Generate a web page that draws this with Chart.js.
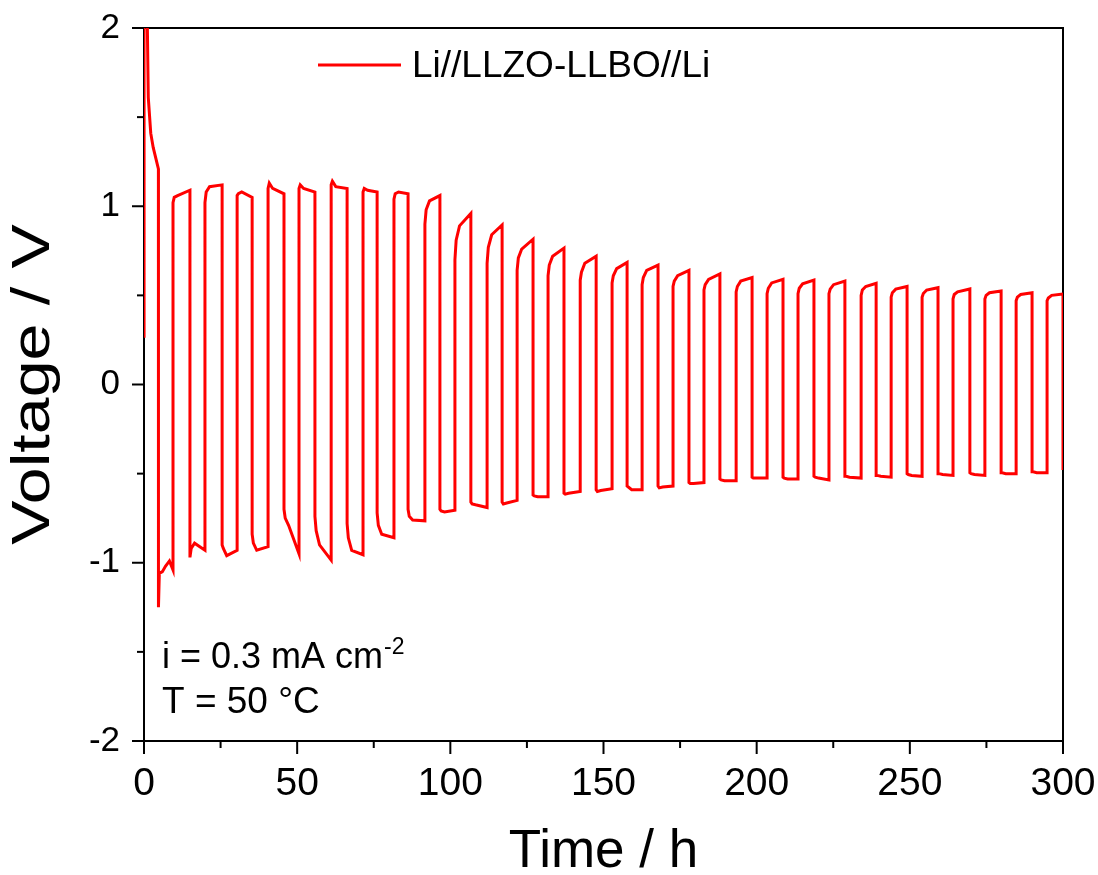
<!DOCTYPE html>
<html>
<head>
<meta charset="utf-8">
<script src="https://cdn.jsdelivr.net/npm/chart.js@4.4.1/dist/chart.umd.min.js"></script>
<style>
  body { margin: 0; background: #fff; }
</style>
</head>
<body>
<canvas id="chart" width="1098" height="875"></canvas>
<script>
// Symmetric cell cycling (time in h, voltage in V)
// start of the run: open circuit then the first polarisation
const startTime = [0, 0.02, 1.0, 1.1, 1.4, 2.2, 3.0, 4.7];
const startVolt = [0.27, 2.5, 2.1, 2.0, 1.61, 1.41, 1.33, 1.21];
const firstNegTime = [4.72, 5.0, 6.0, 7.0, 8.3, 9.47];
const firstNegVolt = [-1.25, -1.06, -1.05, -1.02, -0.99, -1.04];

// each cycle: positive half from posOn to posOff, then negative half until next posOn
const posOn = [9.47, 19.9, 30.4, 40.5, 50.6, 61.1, 71.5, 81.6, 91.7, 101.5, 112.0, 121.8, 131.9, 142.4, 152.8, 162.6, 172.7, 182.8, 193.3, 203.4, 213.5, 223.6, 234.1, 243.9, 254.0, 264.1, 274.5, 284.7, 294.8];
const posOff = [15.0, 25.5, 35.3, 45.7, 55.8, 66.3, 76.1, 86.2, 96.6, 106.7, 116.9, 127.0, 137.1, 147.6, 157.7, 167.8, 177.9, 188.0, 198.5, 208.6, 218.7, 228.8, 239.0, 249.1, 259.2, 269.6, 279.8, 289.9, 300.0];

// voltage right after switching, after 0.4 h, after 1.5 h, and at the end of the half cycle
const sampleAfter = [0.4, 1.5];
const posV0 = [1.02, 1.02, 1.06, 1.10, 1.10, 1.12, 1.08, 1.04, 0.90, 0.70, 0.68, 0.64, 0.61, 0.585, 0.57, 0.56, 0.55, 0.53, 0.52, 0.51, 0.51, 0.51, 0.50, 0.49, 0.49, 0.48, 0.48, 0.47, 0.47];
const posV1 = [1.05, 1.08, 1.07, 1.13, 1.12, 1.14, 1.10, 1.07, 0.98, 0.81, 0.77, 0.71, 0.67, 0.63, 0.61, 0.60, 0.58, 0.56, 0.55, 0.54, 0.54, 0.535, 0.53, 0.515, 0.51, 0.505, 0.50, 0.49, 0.485];
const posV2 = [1.06, 1.11, 1.08, 1.10, 1.10, 1.11, 1.09, 1.08, 1.03, 0.89, 0.84, 0.76, 0.72, 0.68, 0.65, 0.64, 0.61, 0.59, 0.58, 0.57, 0.565, 0.56, 0.55, 0.535, 0.53, 0.52, 0.515, 0.505, 0.50];
const posV3 = [1.09, 1.12, 1.05, 1.07, 1.08, 1.10, 1.08, 1.07, 1.06, 0.96, 0.895, 0.815, 0.765, 0.72, 0.685, 0.67, 0.64, 0.62, 0.60, 0.59, 0.586, 0.58, 0.568, 0.55, 0.543, 0.536, 0.525, 0.515, 0.508];

const negV0 = [-0.97, -0.90, -0.84, -0.70, -0.74, -0.78, -0.72, -0.70, -0.70, -0.66, -0.66, -0.62, -0.61, -0.59, -0.57, -0.57, -0.55, -0.53, -0.52, -0.52, -0.515, -0.515, -0.51, -0.50, -0.50, -0.495, -0.495, -0.49];
const negV1 = [-0.92, -0.92, -0.89, -0.75, -0.82, -0.86, -0.79, -0.74, -0.71, -0.67, -0.67, -0.625, -0.615, -0.60, -0.575, -0.58, -0.555, -0.535, -0.525, -0.525, -0.52, -0.515, -0.51, -0.505, -0.50, -0.50, -0.495, -0.49];
const negV2 = [-0.89, -0.96, -0.93, -0.79, -0.90, -0.93, -0.84, -0.76, -0.715, -0.675, -0.665, -0.63, -0.61, -0.595, -0.59, -0.575, -0.555, -0.54, -0.525, -0.53, -0.525, -0.52, -0.515, -0.51, -0.505, -0.505, -0.50, -0.495];
const negV3 = [-0.93, -0.93, -0.91, -0.95, -0.985, -0.955, -0.86, -0.765, -0.705, -0.69, -0.65, -0.63, -0.60, -0.585, -0.59, -0.57, -0.55, -0.54, -0.525, -0.53, -0.535, -0.525, -0.52, -0.515, -0.51, -0.51, -0.50, -0.495];
const lastVolt = -0.48;

const xTicks = [0, 50, 100, 150, 200, 250, 300];
const yTicks = [-2, -1, 0, 1, 2];

const FONT = "'Liberation Sans', Arial, sans-serif";

// build the trace
const points = [];
startTime.forEach((t, i) => points.push({ x: t, y: startVolt[i] }));
firstNegTime.forEach((t, i) => points.push({ x: t, y: firstNegVolt[i] }));
for (let i = 0; i < posOn.length; i++) {
  points.push({ x: posOn[i], y: posV0[i] });
  points.push({ x: posOn[i] + sampleAfter[0], y: posV1[i] });
  points.push({ x: posOn[i] + sampleAfter[1], y: posV2[i] });
  points.push({ x: posOff[i], y: posV3[i] });
  if (i < negV0.length) {
    points.push({ x: posOff[i], y: negV0[i] });
    points.push({ x: posOff[i] + sampleAfter[0], y: negV1[i] });
    points.push({ x: posOff[i] + sampleAfter[1], y: negV2[i] });
    points.push({ x: posOn[i + 1], y: negV3[i] });
  }
}
points.push({ x: posOff[posOff.length - 1], y: lastVolt });

// keep the plot box fixed, whatever the edge labels need
function fixBox(s) {
  s.paddingLeft = 0; s.paddingRight = 0; s.paddingTop = 0; s.paddingBottom = 0;
}

// frame, ticks, y title, legend and notes
const decor = {
  id: 'decor',
  beforeDatasetsDraw(chart) {
    const { ctx, chartArea: a, scales } = chart;
    ctx.save();
    ctx.strokeStyle = '#000';
    ctx.lineWidth = 2;
    ctx.beginPath();
    ctx.moveTo(a.left, a.top); ctx.lineTo(a.right, a.top); ctx.lineTo(a.right, a.bottom);
    ctx.stroke();
    for (let i = 0; i < xTicks.length; i++) {
      const px = scales.x.getPixelForValue(xTicks[i]);
      ctx.beginPath(); ctx.moveTo(px, a.bottom); ctx.lineTo(px, a.bottom + 13); ctx.stroke();
      if (i < xTicks.length - 1) {
        const mx = scales.x.getPixelForValue((xTicks[i] + xTicks[i + 1]) / 2);
        ctx.beginPath(); ctx.moveTo(mx, a.bottom); ctx.lineTo(mx, a.bottom + 7); ctx.stroke();
      }
    }
    for (let i = 0; i < yTicks.length; i++) {
      const py = scales.y.getPixelForValue(yTicks[i]);
      ctx.beginPath(); ctx.moveTo(a.left, py); ctx.lineTo(a.left - 12, py); ctx.stroke();
      if (i < yTicks.length - 1) {
        const my = scales.y.getPixelForValue((yTicks[i] + yTicks[i + 1]) / 2);
        ctx.beginPath(); ctx.moveTo(a.left, my); ctx.lineTo(a.left - 7, my); ctx.stroke();
      }
    }
    ctx.restore();
  },
  afterDraw(chart) {
    const { ctx, chartArea: a } = chart;
    ctx.save();
    // y axis title (stretched like the original)
    ctx.save();
    ctx.translate(34, (a.top + a.bottom) / 2);
    ctx.rotate(-Math.PI / 2);
    ctx.scale(1.25, 1);
    ctx.fillStyle = '#000';
    ctx.font = '53px ' + FONT;
    ctx.textAlign = 'center';
    ctx.textBaseline = 'middle';
    ctx.fillText('Voltage / V', 0, 0);
    ctx.restore();
    // legend
    ctx.strokeStyle = '#ff0000';
    ctx.lineWidth = 3;
    ctx.beginPath(); ctx.moveTo(a.left + 174, a.top + 37); ctx.lineTo(a.left + 257, a.top + 37); ctx.stroke();
    ctx.fillStyle = '#000';
    ctx.textBaseline = 'alphabetic';
    ctx.font = '37px ' + FONT;
    ctx.fillText('Li//LLZO-LLBO//Li', a.left + 268, a.top + 49);
    // notes
    const x0 = a.left + 18;
    const t1 = 'i = 0.3 mA cm';
    ctx.font = '36px ' + FONT;
    ctx.fillText(t1, x0, 668);
    const w1 = ctx.measureText(t1).width;
    ctx.font = '23px ' + FONT;
    ctx.fillText('-2', x0 + w1 + 1, 654);
    ctx.font = '37px ' + FONT;
    ctx.fillText('T = 50 \u00B0C', x0, 713);
    ctx.restore();
  }
};

new Chart(document.getElementById('chart'), {
  type: 'line',
  data: {
    datasets: [{
      label: 'Li//LLZO-LLBO//Li',
      data: points,
      borderColor: '#ff0000',
      borderWidth: 3,
      pointRadius: 0,
      fill: false,
      tension: 0
    }]
  },
  options: {
    responsive: false,
    animation: false,
    layout: { padding: { top: 28, right: 35, left: 0, bottom: 0 } },
    plugins: { legend: { display: false }, tooltip: { enabled: false } },
    scales: {
      x: {
        type: 'linear', min: 0, max: 300,
        afterBuildTicks: s => { s.ticks = xTicks.map(v => ({ value: v })); },
        ticks: { color: '#000', font: { family: FONT, size: 39 }, padding: 8, maxRotation: 0, autoSkip: false },
        grid: { display: true, drawOnChartArea: false, drawTicks: true, tickLength: 12, color: 'rgba(0,0,0,0)' },
        border: { display: true, color: '#000', width: 2 },
        title: { display: true, text: 'Time / h', color: '#000', font: { family: FONT, size: 53, lineHeight: 0.87 }, padding: { top: 0, bottom: 0 } },
        afterFit: s => { s.height = 134; fixBox(s); }
      },
      y: {
        type: 'linear', min: -2, max: 2,
        afterBuildTicks: s => { s.ticks = yTicks.map(v => ({ value: v })); },
        ticks: { color: '#000', font: { family: FONT, size: 35 }, padding: 12 },
        grid: { display: true, drawOnChartArea: false, drawTicks: true, tickLength: 12, color: 'rgba(0,0,0,0)' },
        border: { display: true, color: '#000', width: 2 },
        title: { display: false },
        afterFit: s => { s.width = 144; fixBox(s); }
      }
    }
  },
  plugins: [decor]
});
</script>
</body>
</html>
